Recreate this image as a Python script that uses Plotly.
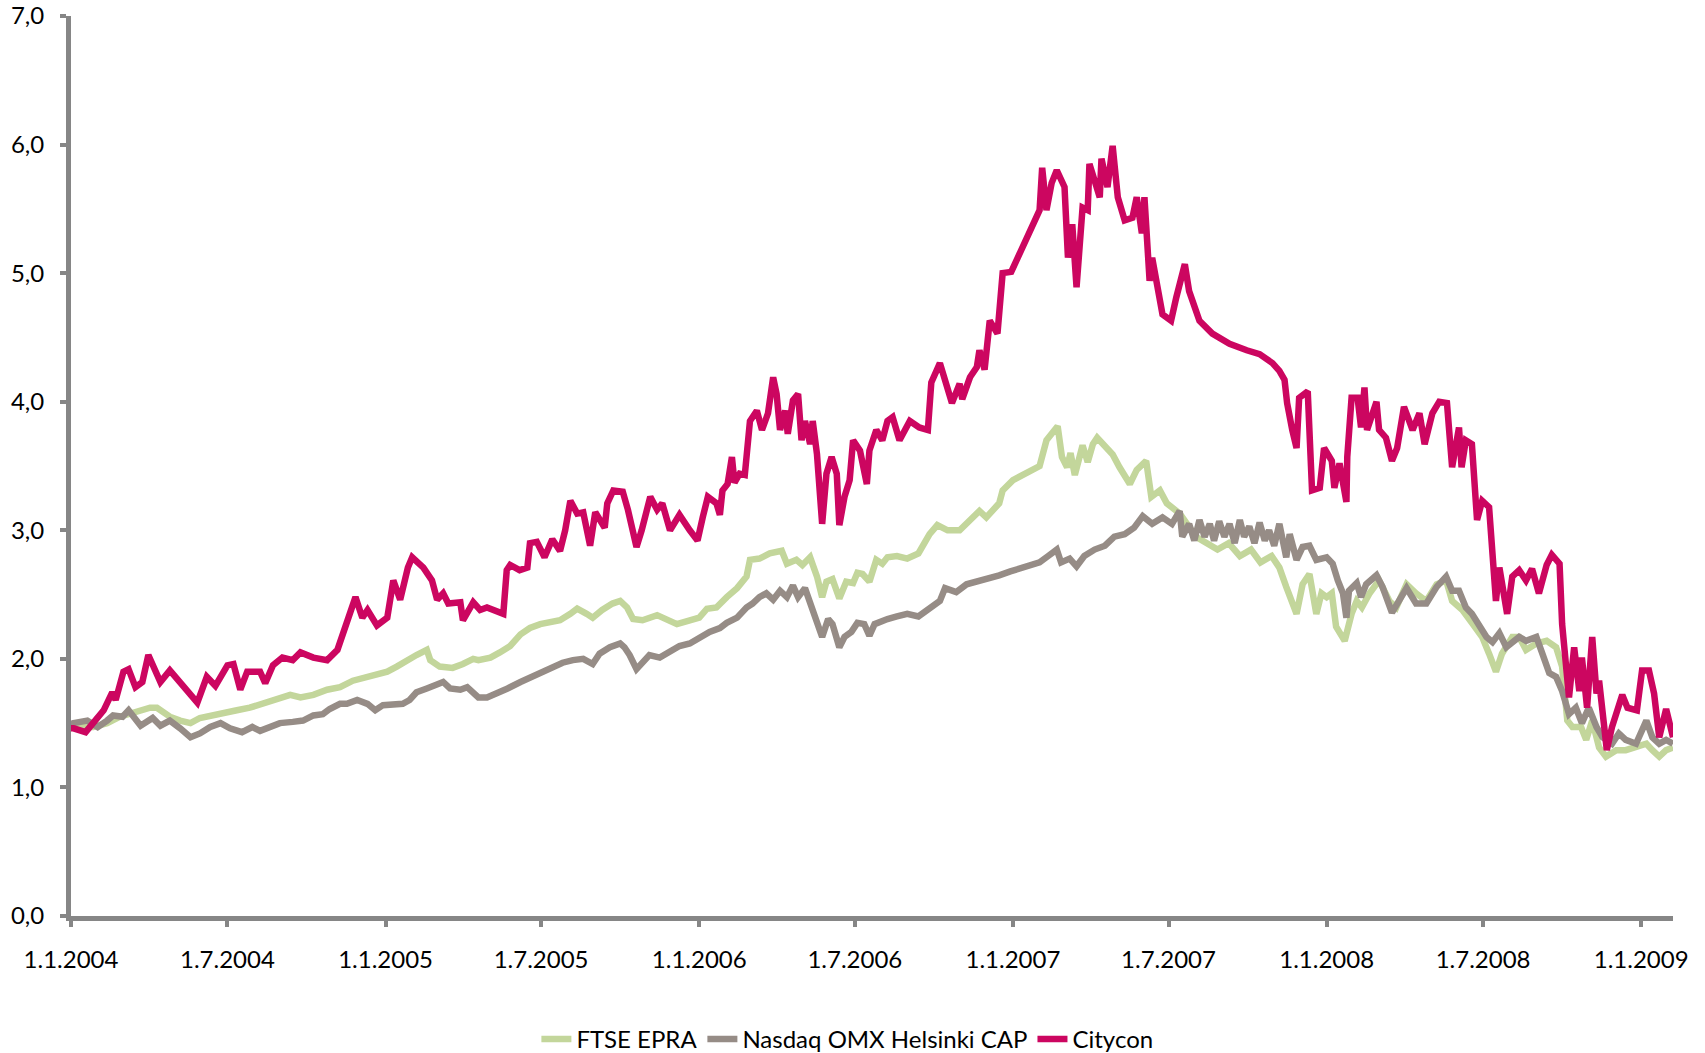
import pandas as pd
import plotly.graph_objects as go

START = pd.Timestamp("2004-01-01")

# ---- data: day offsets from 1.1.2004 and index values ----
ftse_days = [0, 3, 26, 42, 57, 69, 81, 92, 100, 107, 115, 127, 139, 150, 162, 177, 193, 208, 224, 240, 255, 267, 282, 298, 313, 328, 345, 356, 368, 379, 391, 402, 414, 418, 429, 444, 456, 468, 474, 488, 499, 511, 523, 534, 546, 557, 569, 581, 589, 600, 607, 618, 630, 639, 647, 654, 665, 682, 693, 705, 720, 731, 740, 751, 763, 775, 786, 790, 801, 813, 827, 833, 844, 851, 860, 868, 874, 879, 886, 894, 902, 910, 915, 921, 929, 937, 944, 950, 961, 973, 986, 999, 1008, 1020, 1034, 1046, 1057, 1065, 1080, 1084, 1096, 1127, 1135, 1148, 1153, 1159, 1163, 1168, 1177, 1183, 1189, 1194, 1205, 1212, 1220, 1232, 1240, 1251, 1257, 1267, 1275, 1290, 1309, 1321, 1334, 1347, 1360, 1373, 1384, 1397, 1406, 1414, 1426, 1433, 1441, 1449, 1455, 1461, 1467, 1472, 1482, 1490, 1496, 1502, 1511, 1522, 1534, 1542, 1554, 1565, 1577, 1589, 1600, 1607, 1619, 1630, 1642, 1650, 1658, 1665, 1677, 1685, 1693, 1705, 1717, 1728, 1735, 1741, 1747, 1757, 1763, 1770, 1778, 1786, 1798, 1809, 1821, 1833, 1840, 1848, 1856, 1864]
ftse_vals = [1.46, 1.47, 1.47, 1.50, 1.55, 1.57, 1.60, 1.62, 1.62, 1.58, 1.55, 1.52, 1.50, 1.54, 1.56, 1.58, 1.60, 1.62, 1.65, 1.68, 1.72, 1.70, 1.72, 1.76, 1.78, 1.83, 1.86, 1.88, 1.90, 1.94, 1.99, 2.03, 2.07, 1.99, 1.94, 1.93, 1.96, 2.00, 1.99, 2.01, 2.05, 2.10, 2.19, 2.24, 2.27, 2.28, 2.30, 2.35, 2.39, 2.35, 2.32, 2.38, 2.43, 2.45, 2.40, 2.31, 2.30, 2.34, 2.30, 2.27, 2.30, 2.32, 2.39, 2.40, 2.48, 2.55, 2.64, 2.77, 2.78, 2.82, 2.84, 2.74, 2.77, 2.73, 2.79, 2.64, 2.48, 2.60, 2.62, 2.47, 2.60, 2.59, 2.67, 2.66, 2.60, 2.77, 2.74, 2.79, 2.80, 2.78, 2.82, 2.97, 3.04, 3.00, 3.00, 3.08, 3.15, 3.10, 3.21, 3.31, 3.39, 3.50, 3.70, 3.81, 3.57, 3.49, 3.60, 3.43, 3.66, 3.53, 3.67, 3.72, 3.63, 3.59, 3.49, 3.36, 3.47, 3.54, 3.26, 3.31, 3.21, 3.13, 2.95, 2.90, 2.85, 2.90, 2.80, 2.85, 2.75, 2.80, 2.71, 2.56, 2.35, 2.58, 2.66, 2.35, 2.51, 2.48, 2.51, 2.25, 2.14, 2.35, 2.45, 2.40, 2.51, 2.61, 2.45, 2.40, 2.58, 2.51, 2.45, 2.58, 2.61, 2.45, 2.38, 2.28, 2.17, 2.04, 1.90, 2.04, 2.17, 2.17, 2.07, 2.12, 2.14, 2.09, 1.94, 1.52, 1.47, 1.47, 1.37, 1.52, 1.31, 1.24, 1.29, 1.29, 1.31, 1.34, 1.29, 1.24, 1.29, 1.31]

omx_days = [0, 3, 19, 31, 42, 49, 60, 67, 81, 95, 104, 115, 127, 139, 150, 162, 174, 185, 199, 211, 220, 232, 243, 258, 270, 282, 293, 301, 313, 321, 333, 345, 354, 363, 375, 386, 394, 402, 414, 426, 433, 441, 453, 461, 468, 474, 484, 496, 508, 523, 538, 549, 561, 572, 584, 596, 607, 615, 627, 639, 644, 650, 658, 665, 673, 685, 697, 708, 720, 731, 743, 755, 763, 775, 786, 793, 801, 809, 817, 825, 833, 840, 846, 854, 860, 868, 874, 881, 886, 894, 900, 908, 915, 923, 929, 935, 944, 950, 961, 973, 986, 999, 1011, 1017, 1030, 1042, 1055, 1069, 1080, 1093, 1127, 1137, 1147, 1152, 1162, 1170, 1179, 1191, 1203, 1214, 1226, 1237, 1247, 1258, 1270, 1281, 1290, 1293, 1301, 1307, 1313, 1319, 1325, 1330, 1336, 1342, 1348, 1354, 1360, 1365, 1371, 1377, 1383, 1389, 1394, 1400, 1406, 1414, 1418, 1426, 1433, 1441, 1449, 1461, 1468, 1474, 1480, 1484, 1487, 1496, 1501, 1507, 1519, 1526, 1537, 1554, 1565, 1577, 1589, 1600, 1607, 1615, 1623, 1630, 1639, 1647, 1654, 1662, 1670, 1677, 1685, 1693, 1705, 1712, 1720, 1728, 1735, 1743, 1751, 1758, 1766, 1775, 1782, 1793, 1801, 1809, 1821, 1833, 1840, 1848, 1856, 1864]
omx_vals = [1.46, 1.50, 1.52, 1.47, 1.52, 1.56, 1.55, 1.60, 1.48, 1.54, 1.48, 1.52, 1.46, 1.39, 1.42, 1.47, 1.50, 1.46, 1.43, 1.47, 1.44, 1.47, 1.50, 1.51, 1.52, 1.56, 1.57, 1.61, 1.65, 1.65, 1.68, 1.65, 1.60, 1.64, 1.65, 1.65, 1.68, 1.74, 1.77, 1.80, 1.82, 1.77, 1.76, 1.78, 1.74, 1.70, 1.70, 1.73, 1.77, 1.82, 1.87, 1.90, 1.94, 1.97, 1.99, 2.00, 1.96, 2.04, 2.09, 2.12, 2.09, 2.03, 1.92, 1.97, 2.03, 2.01, 2.05, 2.10, 2.12, 2.17, 2.21, 2.24, 2.28, 2.32, 2.40, 2.43, 2.48, 2.51, 2.46, 2.53, 2.48, 2.57, 2.48, 2.55, 2.43, 2.30, 2.17, 2.31, 2.27, 2.09, 2.17, 2.21, 2.28, 2.27, 2.18, 2.27, 2.30, 2.31, 2.33, 2.35, 2.33, 2.40, 2.45, 2.55, 2.52, 2.58, 2.60, 2.63, 2.65, 2.68, 2.75, 2.80, 2.85, 2.75, 2.78, 2.72, 2.80, 2.85, 2.88, 2.95, 2.97, 3.02, 3.11, 3.05, 3.10, 3.05, 3.15, 2.95, 3.05, 2.92, 3.08, 2.95, 3.05, 2.92, 3.07, 2.95, 3.05, 2.90, 3.08, 2.95, 3.03, 2.90, 3.06, 2.92, 3.00, 2.88, 3.05, 2.79, 2.97, 2.77, 2.87, 2.88, 2.77, 2.79, 2.74, 2.61, 2.51, 2.32, 2.53, 2.59, 2.48, 2.58, 2.65, 2.56, 2.36, 2.55, 2.43, 2.43, 2.56, 2.64, 2.53, 2.53, 2.40, 2.35, 2.25, 2.17, 2.13, 2.20, 2.09, 2.13, 2.17, 2.14, 2.17, 2.04, 1.89, 1.86, 1.75, 1.57, 1.62, 1.50, 1.62, 1.47, 1.39, 1.34, 1.42, 1.37, 1.34, 1.52, 1.39, 1.34, 1.37, 1.34]

citycon_days = [0, 3, 17, 26, 38, 48, 52, 61, 67, 75, 83, 90, 98, 104, 115, 121, 135, 147, 158, 168, 182, 189, 197, 205, 220, 226, 235, 246, 258, 267, 282, 298, 310, 317, 325, 331, 339, 345, 356, 368, 375, 383, 392, 397, 410, 420, 426, 433, 439, 453, 456, 468, 476, 484, 503, 507, 511, 522, 531, 534, 542, 551, 560, 569, 575, 581, 589, 596, 604, 610, 621, 624, 631, 642, 648, 654, 658, 664, 674, 682, 688, 697, 708, 720, 729, 735, 741, 751, 755, 758, 764, 769, 772, 778, 784, 790, 798, 804, 811, 817, 821, 825, 831, 834, 840, 846, 850, 854, 860, 863, 868, 874, 879, 885, 891, 894, 900, 906, 910, 918, 926, 929, 937, 944, 950, 956, 964, 976, 987, 997, 1001, 1011, 1025, 1034, 1037, 1046, 1054, 1057, 1063, 1069, 1078, 1084, 1094, 1127, 1130, 1135, 1141, 1147, 1156, 1160, 1165, 1170, 1177, 1183, 1185, 1197, 1199, 1206, 1212, 1218, 1226, 1235, 1240, 1246, 1249, 1255, 1258, 1270, 1280, 1286, 1296, 1301, 1313, 1328, 1348, 1368, 1383, 1398, 1406, 1412, 1415, 1421, 1426, 1429, 1439, 1444, 1453, 1458, 1467, 1470, 1476, 1484, 1485, 1490, 1497, 1501, 1505, 1508, 1519, 1522, 1530, 1537, 1543, 1551, 1561, 1569, 1575, 1584, 1592, 1601, 1607, 1615, 1618, 1623, 1630, 1636, 1642, 1650, 1658, 1662, 1671, 1677, 1685, 1693, 1700, 1708, 1717, 1723, 1732, 1735, 1743, 1749, 1755, 1758, 1764, 1770, 1775, 1778, 1787, 1793, 1805, 1811, 1822, 1828, 1836, 1842, 1848, 1856, 1864]
citycon_vals = [1.46, 1.46, 1.43, 1.51, 1.60, 1.74, 1.68, 1.90, 1.92, 1.78, 1.82, 2.03, 1.89, 1.82, 1.91, 1.86, 1.76, 1.66, 1.86, 1.79, 1.95, 1.96, 1.76, 1.90, 1.90, 1.81, 1.95, 2.01, 1.99, 2.05, 2.01, 1.99, 2.07, 2.20, 2.35, 2.48, 2.32, 2.38, 2.26, 2.32, 2.61, 2.46, 2.71, 2.79, 2.71, 2.61, 2.46, 2.51, 2.43, 2.44, 2.30, 2.44, 2.38, 2.40, 2.35, 2.69, 2.73, 2.69, 2.71, 2.90, 2.91, 2.79, 2.93, 2.84, 3.00, 3.23, 3.13, 3.14, 2.88, 3.14, 3.02, 3.21, 3.31, 3.30, 3.16, 3.00, 2.87, 3.00, 3.26, 3.16, 3.21, 3.00, 3.12, 3.00, 2.92, 3.10, 3.26, 3.21, 3.12, 3.31, 3.36, 3.57, 3.37, 3.44, 3.43, 3.85, 3.93, 3.78, 3.91, 4.19, 4.06, 3.78, 3.93, 3.75, 4.01, 4.06, 3.70, 3.85, 3.67, 3.85, 3.59, 3.05, 3.44, 3.57, 3.44, 3.04, 3.26, 3.39, 3.70, 3.62, 3.36, 3.62, 3.78, 3.70, 3.85, 3.88, 3.70, 3.85, 3.80, 3.78, 4.15, 4.30, 3.99, 4.14, 4.02, 4.19, 4.27, 4.40, 4.25, 4.63, 4.53, 5.00, 5.01, 5.49, 5.82, 5.49, 5.70, 5.80, 5.67, 5.12, 5.38, 4.89, 5.51, 5.49, 5.85, 5.59, 5.89, 5.67, 5.99, 5.59, 5.41, 5.43, 5.59, 5.31, 5.59, 4.94, 5.12, 4.68, 4.63, 4.81, 5.07, 4.86, 4.63, 4.53, 4.45, 4.40, 4.37, 4.30, 4.24, 4.17, 3.99, 3.78, 3.64, 4.03, 4.08, 3.31, 3.33, 3.64, 3.54, 3.33, 3.52, 3.22, 3.57, 4.03, 4.03, 3.80, 4.11, 3.78, 4.00, 3.78, 3.72, 3.54, 3.64, 3.96, 3.78, 3.91, 3.67, 3.91, 4.00, 3.99, 3.49, 3.80, 3.49, 3.70, 3.67, 3.08, 3.23, 3.18, 2.45, 2.71, 2.35, 2.64, 2.69, 2.61, 2.70, 2.51, 2.73, 2.81, 2.74, 2.27, 1.70, 2.09, 1.75, 2.01, 1.62, 2.17, 1.73, 1.83, 1.29, 1.47, 1.72, 1.62, 1.60, 1.91, 1.91, 1.73, 1.39, 1.61, 1.39]

series_names = ["FTSE EPRA", "Nasdaq OMX Helsinki CAP", "Citycon"]
series_colors = ["#C3D69B", "#968C86", "#CC0660"]

tick_dates = ["2004-01-01", "2004-07-01", "2005-01-01", "2005-07-01", "2006-01-01",
              "2006-07-01", "2007-01-01", "2007-07-01", "2008-01-01", "2008-07-01", "2009-01-01"]
tick_labels = ["1.1.2004", "1.7.2004", "1.1.2005", "1.7.2005", "1.1.2006",
               "1.7.2006", "1.1.2007", "1.7.2007", "1.1.2008", "1.7.2008", "1.1.2009"]
y_ticks = [0, 1, 2, 3, 4, 5, 6, 7]
y_labels = ["0,0", "1,0", "2,0", "3,0", "4,0", "5,0", "6,0", "7,0"]


def to_dates(days):
    return START + pd.to_timedelta(days, unit="D")


fig = go.Figure()
for name, color, days, vals in zip(
        series_names, series_colors,
        [ftse_days, omx_days, citycon_days],
        [ftse_vals, omx_vals, citycon_vals]):
    fig.add_trace(go.Scatter(x=to_dates(days), y=vals, mode="lines", name=name,
                             line=dict(color=color, width=6.5)))

AXIS = "#868686"
FONT = dict(family="Lato, Open Sans, sans-serif", size=24, color="#000000")

fig.update_layout(
    width=1705, height=1053,
    margin=dict(l=71, r=32, t=16, b=137),
    paper_bgcolor="white", plot_bgcolor="white",
    font=FONT,
    showlegend=True,
    legend=dict(orientation="h", xref="container", yref="container",
                x=0.497, xanchor="center", y=0.013, yanchor="middle",
                font=FONT, bgcolor="rgba(0,0,0,0)"),
    xaxis=dict(type="date", range=[START, to_dates([1864])[0]],
               tickvals=tick_dates, ticktext=tick_labels, automargin=False,
               ticklabeloverflow="allow",
               showgrid=False, zeroline=False, showline=True, linecolor=AXIS, linewidth=5,
               ticks="outside", ticklen=6, tickwidth=4, tickcolor=AXIS, tickfont=FONT,
               ticklabelstandoff=12),
    yaxis=dict(range=[0, 7], tickvals=y_ticks, ticktext=y_labels, automargin=False,
               ticklabeloverflow="allow",
               showgrid=False, zeroline=False, showline=True, linecolor=AXIS, linewidth=5,
               ticks="outside", ticklen=6, tickwidth=4, tickcolor=AXIS, tickfont=FONT,
               ticklabelstandoff=11),
)

# remove the browser's default 8px body margin so the figure fills the window exactly
fig.write_html("out.html", config={"displayModeBar": False},
               post_script="document.body.style.margin='0';")
